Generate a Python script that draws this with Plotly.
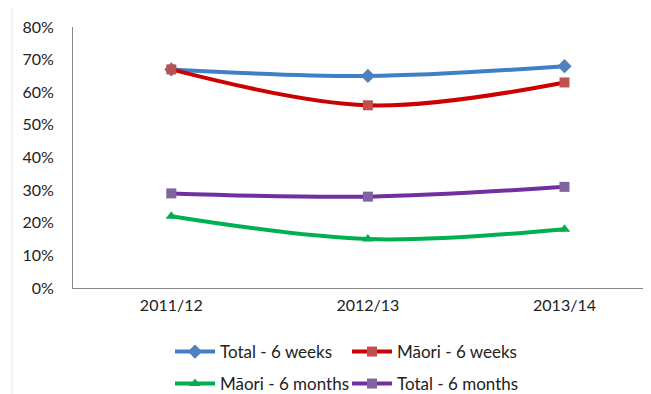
import plotly.graph_objects as go

categories = ["2011/12", "2012/13", "2013/14"]
total_6w = [0.67, 0.65, 0.68]
maori_6w = [0.67, 0.56, 0.63]
maori_6m = [0.22, 0.15, 0.18]
total_6m = [0.29, 0.28, 0.31]
y_ticks = [0, 0.1, 0.2, 0.3, 0.4, 0.5, 0.6, 0.7, 0.8]
y_labels = ["0%", "10%", "20%", "30%", "40%", "50%", "60%", "70%", "80%"]

FONT = "Lato, Open Sans, sans-serif"
W, H = 643, 386  # page has an 8px body margin
L, T, B = 65, 19, H - 280
PW = W - L

fig = go.Figure()
fig.add_trace(go.Scatter(x=categories, y=total_6w, name="Total - 6 weeks", mode="lines+markers",
                         line=dict(color="#3f7fc8", width=4, shape="spline"),
                         marker=dict(symbol="diamond", size=11, color="#4f81bd"), legend="legend"))
fig.add_trace(go.Scatter(x=categories, y=maori_6w, name="Māori - 6 weeks", mode="lines+markers",
                         line=dict(color="#cc0000", width=4, shape="spline"),
                         marker=dict(symbol="square", size=10, color="#c0504d"), legend="legend"))
fig.add_trace(go.Scatter(x=categories, y=maori_6m, name="Māori - 6 months", mode="lines+markers",
                         line=dict(color="#00b050", width=4, shape="spline"),
                         marker=dict(symbol="triangle-up", size=10, color="#00b050"), legend="legend2"))
fig.add_trace(go.Scatter(x=categories, y=total_6m, name="Total - 6 months", mode="lines+markers",
                         line=dict(color="#7030a0", width=4, shape="spline"),
                         marker=dict(symbol="square", size=10, color="#8064a2"), legend="legend2"))

legend_common = dict(orientation="h", xref="container", yref="container", x=(170 - 8) / W,
                     xanchor="left", yanchor="middle",
                     font=dict(family=FONT, size=17, color="#222"),
                     entrywidth=122, entrywidthmode="pixels", bgcolor="rgba(0,0,0,0)",
                     tracegroupgap=0, itemwidth=40)

# faint frame line at the left edge of the original picture
fig.add_shape(type="line", xref="paper", yref="paper",
              x0=(12 - 8 - L) / PW, x1=(12 - 8 - L) / PW, y0=-B / 261, y1=1 + T / 261,
              line=dict(color="#e6e6e6", width=1))

fig.update_layout(
    width=W, height=H,
    margin=dict(l=L, r=0, t=T, b=B),
    paper_bgcolor="white", plot_bgcolor="white",
    showlegend=True,
    legend=dict(**legend_common, y=1 - (352 - 8) / H),
    legend2=dict(**legend_common, y=1 - (384 - 8) / H),
    xaxis=dict(type="category", range=[-0.5, 2.44], showgrid=False, showline=True,
               linecolor="#888", linewidth=1, ticks="", ticklabelstandoff=3,
               tickfont=dict(family=FONT, size=16, color="#222"), zeroline=False),
    yaxis=dict(range=[0, 0.8], tickvals=y_ticks, ticktext=y_labels, showgrid=False,
               showline=True, linecolor="#888", linewidth=1, ticks="", ticklabelstandoff=15,
               tickfont=dict(family=FONT, size=16, color="#222"), zeroline=False),
)

fig.write_html("out.html")
